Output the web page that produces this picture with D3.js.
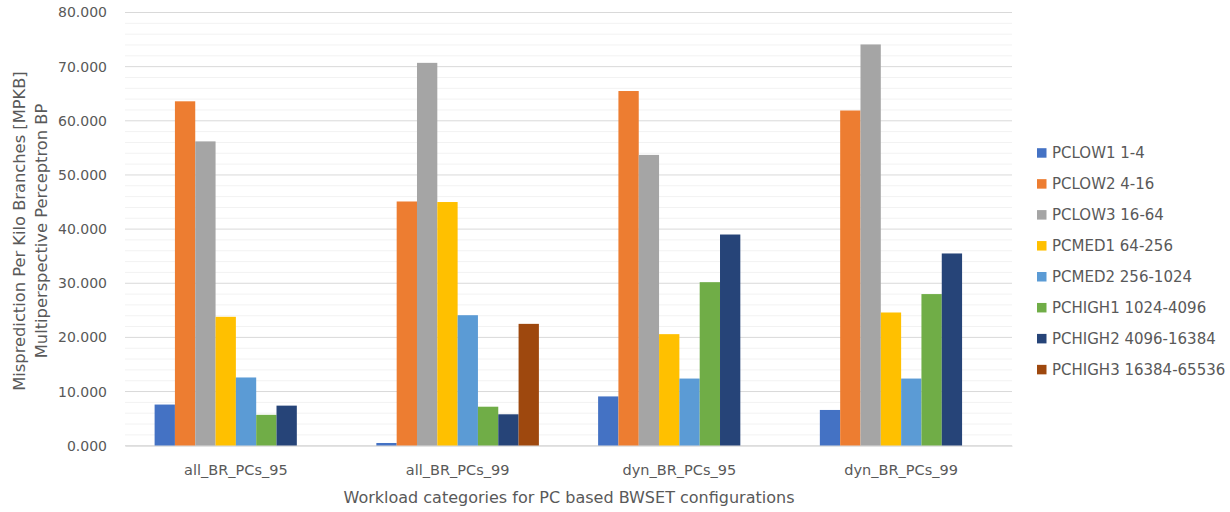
<!DOCTYPE html>
<html><head><meta charset="utf-8">
<script src="https://cdn.jsdelivr.net/npm/d3@7"></script>
<style>body{margin:0;background:#fff}svg{display:block}text{font-family:"DejaVu Sans",sans-serif;fill:#595959}</style>
</head><body><svg id="c" width="1230" height="512"></svg>
<script>
const categories = ["all_BR_PCs_95","all_BR_PCs_99","dyn_BR_PCs_95","dyn_BR_PCs_99"];
const seriesNames = ["PCLOW1 1-4","PCLOW2 4-16","PCLOW3 16-64","PCMED1 64-256","PCMED2 256-1024","PCHIGH1 1024-4096","PCHIGH2 4096-16384","PCHIGH3 16384-65536"];
const PCLOW1  = [7.6, 0.5, 9.1, 6.6];
const PCLOW2  = [63.6, 45.1, 65.5, 61.9];
const PCLOW3  = [56.2, 70.7, 53.7, 74.1];
const PCMED1  = [23.8, 45.0, 20.6, 24.6];
const PCMED2  = [12.6, 24.1, 12.4, 12.4];
const PCHIGH1 = [5.7, 7.2, 30.2, 28.0];
const PCHIGH2 = [7.4, 5.8, 39.0, 35.5];
const PCHIGH3 = [0, 22.5, 0, 0];
const yTicks = [0,10,20,30,40,50,60,70,80];
const colors = ["#4472C4","#ED7D31","#A5A5A5","#FFC000","#5B9BD5","#70AD47","#264478","#9E480E"];

const values = [PCLOW1,PCLOW2,PCLOW3,PCMED1,PCMED2,PCHIGH1,PCHIGH2,PCHIGH3];
const svg = d3.select("#c");
const L = 125, R = 1012, T = 12.5, B = 445.7;
const x = d3.scaleBand().domain(categories).range([L,R]).paddingInner(0).paddingOuter(0);
const y = d3.scaleLinear().domain([0,80]).range([B,T]);
const groupW = x.bandwidth()*0.733;
const xs = d3.scaleBand().domain(seriesNames).range([0, groupW]);
const off = (x.bandwidth() - groupW)/2;

// minor gridlines
const minor = d3.range(0,81,2).filter(v=>v%10!==0);
svg.append("g").selectAll("line").data(minor).join("line")
  .attr("x1",L).attr("x2",R).attr("y1",d=>y(d)).attr("y2",d=>y(d))
  .attr("stroke","#f2f2f2").attr("stroke-width",1);
// major
svg.append("g").selectAll("line").data(yTicks).join("line")
  .attr("x1",L).attr("x2",R).attr("y1",d=>y(d)).attr("y2",d=>y(d))
  .attr("stroke","#d9d9d9").attr("stroke-width",1);

// y axis labels
const yAxis = d3.axisLeft(y).tickValues(yTicks).tickSize(0).tickPadding(18).tickFormat(d3.format(".3f"));
const ya = svg.append("g").attr("transform",`translate(${L},0)`).call(yAxis);
ya.select(".domain").remove();
ya.selectAll("text").style("font-size","14px").style("fill","#595959").style("font-family","DejaVu Sans");

// bars
const g = svg.append("g");
categories.forEach((c,ci)=>{
  seriesNames.forEach((s,si)=>{
    const v = values[si][ci];
    if(v<=0) return;
    g.append("rect").attr("x", x(c)+off+xs(s)).attr("width", xs.bandwidth())
      .attr("y", y(v)).attr("height", y(0)-y(v)).attr("fill", colors[si]);
  });
});

// x axis
const xAxis = d3.axisBottom(x).tickSize(0).tickPadding(0);
const xa = svg.append("g").attr("transform",`translate(0,${B})`).call(xAxis);
xa.select(".domain").attr("stroke","#d9d9d9");
xa.selectAll("text").attr("dy",null).attr("y",29.5).style("font-size","14.5px").style("fill","#595959").style("font-family","DejaVu Sans");

// axis titles
svg.append("text").attr("x",569).attr("y",503).attr("text-anchor","middle")
  .style("font-size","16px").text("Workload categories for PC based BWSET configurations");
const yt = svg.append("text").attr("transform",`translate(0,231) rotate(-90)`).attr("text-anchor","middle").style("font-size","16.3px");
yt.append("tspan").attr("x",0).attr("y",25).text("Misprediction Per Kilo Branches [MPKB]");
yt.append("tspan").attr("x",0).attr("y",47).text("Multiperspective Perceptron BP");

// legend
const lg = svg.append("g").attr("transform","translate(1037,152.7)");
seriesNames.forEach((s,i)=>{
  const row = lg.append("g").attr("transform",`translate(0,${i*30.95})`);
  row.append("rect").attr("x",0).attr("y",-4.5).attr("width",9.5).attr("height",9.5).attr("fill",colors[i]);
  row.append("text").attr("x",15).attr("y",0).attr("dy","0.36em").style("font-size","15px").text(s);
});
</script></body></html>
